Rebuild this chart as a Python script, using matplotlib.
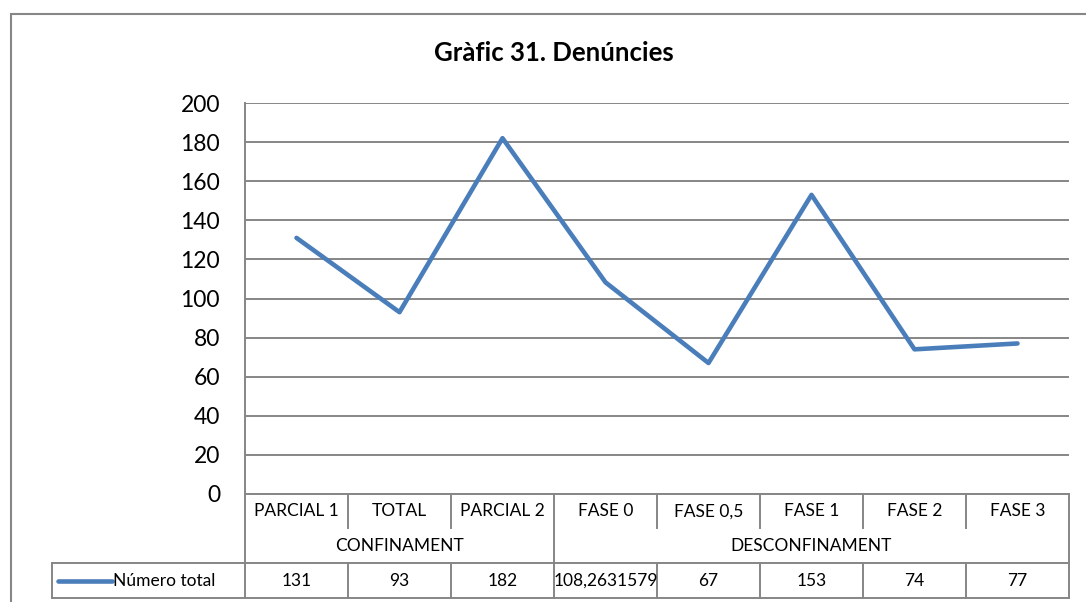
import matplotlib
matplotlib.use("Agg")
import matplotlib.pyplot as plt
from matplotlib.patches import Rectangle

# data
categories = ["PARCIAL 1", "TOTAL", "PARCIAL 2", "FASE 0", "FASE 0,5", "FASE 1", "FASE 2", "FASE 3"]
values = [131, 93, 182, 108.2631579, 67, 153, 74, 77]
groups = ["CONFINAMENT", "DESCONFINAMENT"]
group_sizes = [3, 5]
series_name = "Número total"
title = "Gràfic 31. Denúncies"
yticks = list(range(0, 201, 20))

plt.rcParams['font.family'] = ['Lato', 'DejaVu Sans']

W, H = 1086, 602
GRAY = '#868686'
BLUE = '#4A7EBB'


def px_rect(x0, y0, x1, y1):
    # pixel box (top-left origin) -> figure fraction rect
    return [x0 / W, 1 - y1 / H, (x1 - x0) / W, (y1 - y0) / H]


fig = plt.figure(figsize=(W / 100, H / 100), dpi=100)

# outer chart border (right/bottom run off the picture)
fig.add_artist(Rectangle((11 / W, -0.1), 2, 1 - 14 / H + 0.1, transform=fig.transFigure,
                         fill=False, ec=GRAY, lw=1.5))

fig.text(554 / W, 1 - 53 / H, title, ha='center', va='center', fontsize=18.5, fontweight='bold')

# main plot
ax = fig.add_axes(px_rect(245, 103, 1069, 494))
n = len(categories)
xs = [i + 0.5 for i in range(n)]
ax.plot(xs, values, color=BLUE, lw=3.3, solid_capstyle='round', zorder=3)
ax.set_xlim(0, n)
ax.set_ylim(0, 200)
ax.set_yticks(yticks)
ax.set_xticks([])
ax.yaxis.grid(True, color=GRAY, lw=1.4)
ax.set_axisbelow(True)
for side in ['top', 'right']:
    ax.spines[side].set_visible(False)
for side in ['left', 'bottom']:
    ax.spines[side].set_color(GRAY)
    ax.spines[side].set_linewidth(1.4)
ax.tick_params(axis='y', length=0, pad=18, labelsize=16.5)

# data table under the plot
cell_w = (1069 - 245) / n
leg_w = (245 - 52) / cell_w
tax = fig.add_axes(px_rect(52, 494, 1069, 598))
tax.set_xlim(-leg_w, n)
tax.set_ylim(3, 0)
tax.axis('off')

line_kw = dict(color=GRAY, lw=1.4, clip_on=False)
tax.plot([-leg_w, n], [2, 2], **line_kw)
tax.plot([-leg_w, n], [3, 3], **line_kw)
tax.plot([-leg_w, -leg_w], [2, 3], **line_kw)
tax.plot([0, 0], [0, 3], **line_kw)
tax.plot([n, n], [0, 3], **line_kw)

bounds = [sum(group_sizes[:k + 1]) for k in range(len(group_sizes) - 1)]
for i in range(1, n):
    if i in bounds:
        tax.plot([i, i], [0, 3], **line_kw)
    else:
        tax.plot([i, i], [0, 0.98], **line_kw)
        tax.plot([i, i], [2, 3], **line_kw)

fs = 12.5
for i, cat in enumerate(categories):
    tax.text(i + 0.5, 0.5, cat, ha='center', va='center', fontsize=fs)

start = 0
for g, size in zip(groups, group_sizes):
    tax.text(start + size / 2, 1.5, g, ha='center', va='center', fontsize=fs)
    start += size

for i, v in enumerate(values):
    tax.text(i + 0.5, 2.5, str(v).replace('.', ','), ha='center', va='center', fontsize=fs)

lx0 = (58 - 245) / cell_w
lx1 = (112 - 245) / cell_w
tax.plot([lx0, lx1], [2.5, 2.5], color=BLUE, lw=3.3, solid_capstyle='round', clip_on=False)
tax.text(lx1 + 0.01, 2.5, series_name, ha='left', va='center', fontsize=fs)

fig.savefig('out.png', dpi=100)
